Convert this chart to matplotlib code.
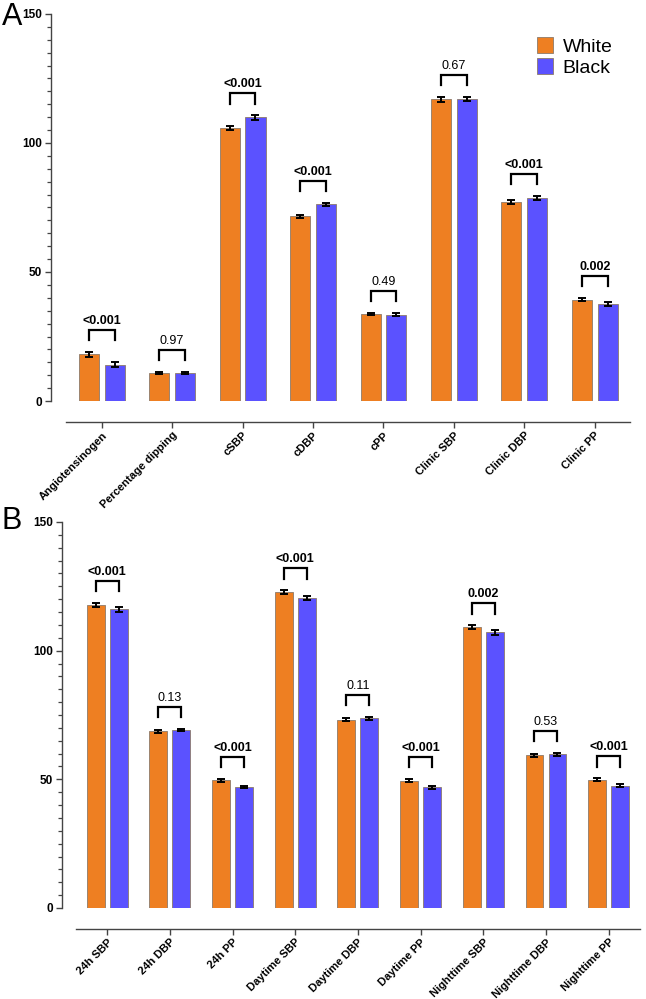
import numpy as np
import matplotlib
matplotlib.use('Agg')
import matplotlib.pyplot as plt
from matplotlib.patches import Patch
from matplotlib.ticker import MultipleLocator

plt.rcParams['font.family'] = ['Liberation Sans', 'DejaVu Sans']

# -------------------------
# Data
# -------------------------

cats_a = ['Angiotensinogen', 'Percentage dipping', 'cSBP', 'cDBP', 'cPP',
          'Clinic SBP', 'Clinic DBP', 'Clinic PP']
white_a = [18.1, 10.9, 105.7, 71.6, 33.7, 116.9, 77.1, 39.3]
black_a = [14.0, 10.9, 109.9, 76.2, 33.5, 117.0, 78.8, 37.7]
white_a_err = [1.0, 0.5, 0.8, 0.6, 0.5, 0.9, 0.7, 0.7]
black_a_err = [1.0, 0.5, 0.8, 0.7, 0.5, 0.9, 0.7, 0.7]
p_a = ['<0.001', '0.97', '<0.001', '<0.001', '0.49', '0.67', '<0.001', '0.002']

cats_b = ['24h SBP', '24h DBP', '24h PP', 'Daytime SBP', 'Daytime DBP',
          'Daytime PP', 'Nighttime SBP', 'Nighttime DBP', 'Nighttime PP']
white_b = [117.8, 68.6, 49.6, 122.7, 73.1, 49.5, 109.1, 59.4, 49.8]
black_b = [116.0, 69.1, 47.0, 120.6, 73.8, 46.9, 107.1, 59.7, 47.6]
white_b_err = [0.8, 0.5, 0.5, 0.8, 0.6, 0.6, 0.8, 0.6, 0.6]
black_b_err = [0.8, 0.5, 0.5, 0.8, 0.6, 0.6, 0.9, 0.6, 0.6]
p_b = ['<0.001', '0.13', '<0.001', '<0.001', '0.11', '<0.001', '0.002', '0.53', '<0.001']

ORANGE = '#EE7F22'
BLUE = '#5B52FF'
EDGE = '#8c7a6a'
AXC = '#444444'


def draw_panel(ax, cats, white, black, werr, berr, pvals):
    x = np.arange(len(cats))
    off, w = 0.183, 0.285

    # axis frame first (moving a spine resets the tick labels)
    for s in ['top', 'right']:
        ax.spines[s].set_visible(False)
    ax.spines['bottom'].set_position(('outward', 15))
    ax.spines['bottom'].set_bounds(-0.5, len(cats) - 0.5)
    for s in ['left', 'bottom']:
        ax.spines[s].set_color(AXC)
        ax.spines[s].set_linewidth(1.0)

    ekw = dict(ecolor='black', elinewidth=1.4, capsize=3.2, capthick=1.4)
    ax.bar(x - off, white, w, yerr=werr, color=ORANGE, edgecolor=EDGE,
           linewidth=0.6, error_kw=ekw, zorder=2)
    ax.bar(x + off, black, w, yerr=berr, color=BLUE, edgecolor=EDGE,
           linewidth=0.6, error_kw=ekw, zorder=2)

    # significance brackets
    for i, p in enumerate(pvals):
        top = max(white[i] + werr[i], black[i] + berr[i]) + 8.5
        ax.plot([i - off, i - off, i + off, i + off],
                [top - 4, top, top, top - 4], color='black', lw=1.6,
                solid_joinstyle='miter', zorder=3)
        bold = p in ('<0.001', '0.002')
        ax.text(i, top + 1.2, p, ha='center', va='bottom', fontsize=9,
                fontweight='bold' if bold else 'normal')

    ax.set_xlim(-0.72, len(cats) - 0.5)
    ax.set_ylim(0, 150)
    ax.set_xticks(x)
    ax.set_xticklabels(cats, rotation=45, ha='right', rotation_mode='anchor',
                       fontsize=8, fontweight='bold')
    ax.set_yticks([0, 50, 100, 150])
    ax.set_yticklabels(['0', '50', '100', '150'], fontsize=8.5, fontweight='bold')
    ax.yaxis.set_minor_locator(MultipleLocator(5))

    ax.tick_params(axis='both', which='major', length=4.5, width=1.0, color=AXC, pad=2)
    ax.tick_params(axis='x', which='major', pad=1.5)
    ax.tick_params(axis='y', which='minor', length=3, width=0.9, color=AXC)
    ax.tick_params(axis='x', which='minor', length=0)


fig = plt.figure(figsize=(6.46, 9.99), dpi=100)

ax_a = fig.add_axes([51 / 646, 1 - 401 / 999, (630 - 51) / 646, (401 - 14) / 999])
draw_panel(ax_a, cats_a, white_a, black_a, white_a_err, black_a_err, p_a)

ax_b = fig.add_axes([62 / 646, 1 - 908 / 999, (640 - 62) / 646, (908 - 522) / 999])
draw_panel(ax_b, cats_b, white_b, black_b, white_b_err, black_b_err, p_b)

fig.text(2 / 646, 1 - 17 / 999, 'A', fontsize=22, ha='left', va='center')
fig.text(2 / 646, 1 - 521 / 999, 'B', fontsize=22, ha='left', va='center')

handles = [Patch(facecolor=ORANGE, edgecolor=EDGE, linewidth=0.6, label='White'),
           Patch(facecolor=BLUE, edgecolor=EDGE, linewidth=0.6, label='Black')]
ax_a.legend(handles=handles, loc='upper right', bbox_to_anchor=(0.99, 0.97),
            frameon=False, fontsize=14, handlelength=0.8, handleheight=0.9,
            handletextpad=0.5, labelspacing=0.1, borderaxespad=0.2)

plt.savefig('out.png', dpi=100)
plt.close()
